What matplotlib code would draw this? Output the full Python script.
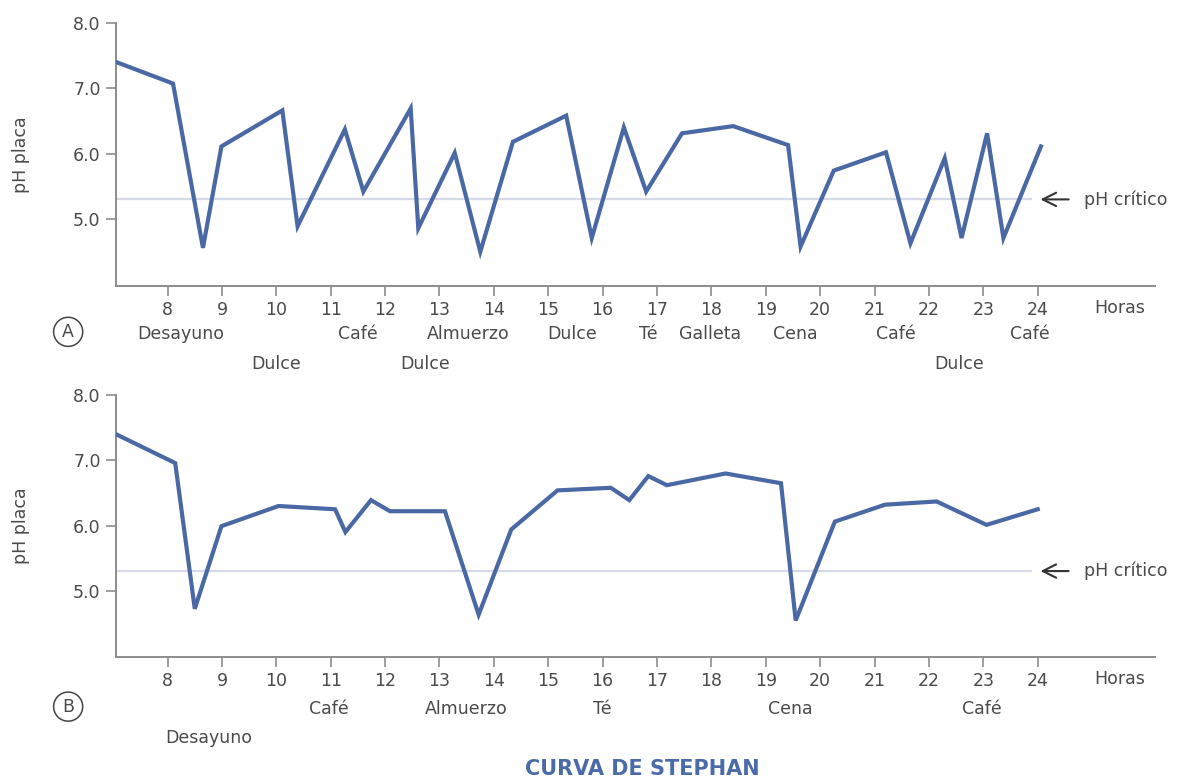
"""
Curva de Stephan: pH de la placa a lo largo del dia
A) con muchas ingestas de azucar, B) con pocas ingestas
"""

import matplotlib
matplotlib.use("Agg")
import matplotlib.pyplot as plt

# -----------------------------
# Data
# -----------------------------
HOURS_A = [7.05, 8.10, 8.65, 8.99, 10.11, 10.39, 11.26, 11.60, 12.47, 12.61,
           13.28, 13.75, 14.35, 15.33, 15.80, 16.39, 16.80, 17.46, 18.40,
           19.41, 19.64, 20.25, 21.21, 21.66, 22.29, 22.60, 23.07, 23.37, 24.06]
PH_A = [7.40, 7.07, 4.56, 6.11, 6.66, 4.89, 6.37, 5.42, 6.69, 4.86,
        6.01, 4.50, 6.18, 6.58, 4.71, 6.40, 5.42, 6.31, 6.42,
        6.13, 4.58, 5.74, 6.02, 4.63, 5.93, 4.71, 6.31, 4.71, 6.11]

HOURS_B = [7.06, 8.14, 8.50, 8.99, 10.04, 11.08, 11.27, 11.74, 12.09, 13.10,
           13.72, 14.32, 15.17, 16.15, 16.49, 16.84, 17.18, 18.26, 19.28,
           19.55, 20.27, 21.19, 22.14, 23.06, 24.00]
PH_B = [7.40, 6.96, 4.72, 5.99, 6.30, 6.25, 5.90, 6.39, 6.22, 6.22,
        4.63, 5.94, 6.54, 6.58, 6.39, 6.76, 6.62, 6.80, 6.65,
        4.54, 6.06, 6.32, 6.37, 6.01, 6.25]

PH_CRITICO = 5.3
HOUR_TICKS = list(range(8, 25))
PH_TICKS = [5.0, 6.0, 7.0, 8.0]

# meal labels: (text, hour, row)
EVENTS_A = [("Desayuno", 8.24, 0), ("Café", 11.50, 0), ("Almuerzo", 13.52, 0),
            ("Dulce", 15.43, 0), ("Té", 16.84, 0), ("Galleta", 17.98, 0),
            ("Cena", 19.55, 0), ("Café", 21.39, 0), ("Café", 23.85, 0),
            ("Dulce", 9.99, 1), ("Dulce", 12.73, 1), ("Dulce", 22.56, 1)]
EVENTS_B = [("Café", 10.97, 0), ("Almuerzo", 13.50, 0), ("Té", 16.00, 0),
            ("Cena", 19.46, 0), ("Café", 22.97, 0), ("Desayuno", 8.75, 1)]

# -----------------------------
# Style
# -----------------------------
LINE_COLOR = "#4a69a4"
AXIS_COLOR = "#8c8c8c"
TEXT_COLOR = "#4a4a4a"
CRIT_COLOR = "#d6d9e8"
TITLE_COLOR = "#4a6aa8"
FS = 12.5

plt.rcParams["font.family"] = ["DejaVu Sans"]
plt.rcParams["font.size"] = FS


def draw_panel(ax, hours, ph, events, letter, row_y):
    ax.plot(hours, ph, color=LINE_COLOR, lw=3, solid_joinstyle="miter", zorder=3)
    ax.plot([7.05, 23.88], [PH_CRITICO, PH_CRITICO], color=CRIT_COLOR, lw=1.6, zorder=1)

    ax.set_xlim(7.05, 26.15)
    ax.set_ylim(3.98, 8.0)
    ax.set_xticks(HOUR_TICKS)
    ax.set_yticks(PH_TICKS)
    ax.set_yticklabels([f"{v:.1f}" for v in PH_TICKS])
    for side in ["top", "right"]:
        ax.spines[side].set_visible(False)
    for side in ["left", "bottom"]:
        ax.spines[side].set_color(AXIS_COLOR)
        ax.spines[side].set_linewidth(1.4)
    ax.tick_params(axis="both", colors=AXIS_COLOR, labelcolor=TEXT_COLOR,
                   length=7, width=1.2, labelsize=FS)
    ax.tick_params(axis="x", pad=4)
    ax.tick_params(axis="y", pad=4)

    ax.set_ylabel("pH placa", color=TEXT_COLOR, fontsize=FS, labelpad=31)

    # hour label at the end of the axis
    ax.text(25.5, -0.085, "Horas", transform=ax.get_xaxis_transform(),
            ha="center", va="center", color=TEXT_COLOR, fontsize=FS)

    # critical pH arrow
    ax.annotate("", xy=(24.0, PH_CRITICO), xytext=(24.62, PH_CRITICO),
                arrowprops=dict(arrowstyle="->", color="#333333", lw=1.5,
                                mutation_scale=24),
                annotation_clip=False)
    ax.text(24.86, PH_CRITICO, "pH crítico", ha="left", va="center",
            color=TEXT_COLOR, fontsize=FS)

    # meal labels
    for text, hour, row in events:
        ax.text(hour, row_y[row], text, transform=ax.get_xaxis_transform(),
                ha="center", va="center", color=TEXT_COLOR, fontsize=FS)

    # circled panel letter
    ax.text(-0.046, row_y[0] + 0.01, letter, transform=ax.transAxes,
            ha="center", va="center", color=TEXT_COLOR, fontsize=FS,
            bbox=dict(boxstyle="circle,pad=0.32", fc="white", ec="#444444", lw=1.1))


fig = plt.figure(figsize=(11.83, 7.83), dpi=100)
ax_a = fig.add_axes([0.098, 0.635, 0.878, 0.336])
ax_b = fig.add_axes([0.098, 0.161, 0.878, 0.334])

draw_panel(ax_a, HOURS_A, PH_A, EVENTS_A, "A", [-0.185, -0.297])
draw_panel(ax_b, HOURS_B, PH_B, EVENTS_B, "B", [-0.20, -0.31])

fig.text(0.543, 0.005, "CURVA DE STEPHAN", ha="center", va="bottom",
         color=TITLE_COLOR, fontsize=15, fontweight="bold")

fig.savefig("out.png", dpi=100)
